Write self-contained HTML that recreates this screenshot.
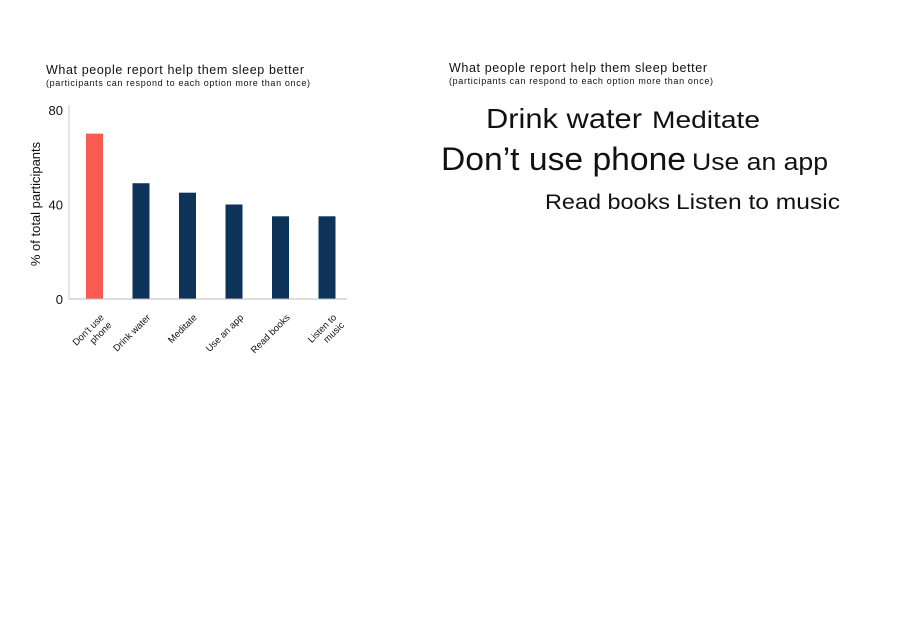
<!DOCTYPE html>
<html><head><meta charset="utf-8"><style>
body{margin:0;background:#fff;font-family:"Liberation Sans",sans-serif}
svg{display:block}
</style></head><body>
<svg id="c" width="914" height="638" font-family="Liberation Sans, sans-serif">
<text x="46" y="74" font-size="12.5" fill="#111" textLength="258">What people report help them sleep better</text>
<text x="46" y="86" font-size="9" fill="#111" textLength="264">(participants can respond to each option more than once)</text>
<text x="449" y="72" font-size="12.5" fill="#111" textLength="258">What people report help them sleep better</text>
<text x="449" y="84" font-size="9" fill="#111" textLength="264">(participants can respond to each option more than once)</text>
<text transform="translate(40,204) rotate(-90)" text-anchor="middle" font-size="13" fill="#111">% of total participants</text>
<g id="bars"></g>
<g id="cloud"></g>
</svg>
<script>
const categories=["Don't use phone","Drink water","Meditate","Use an app","Read books","Listen to music"];
const labelLines=[["Don't use","phone"],["Drink water"],["Meditate"],["Use an app"],["Read books"],["Listen to","music"]];
const values=[70,49,45,40,35,35];
const yTicks=[0,40,80];
const cloudWords=["Drink water","Meditate","Don’t use phone","Use an app","Read books","Listen to music"];
const NS="http://www.w3.org/2000/svg";
const g=document.getElementById('bars');
const x0=69,x1=347,yBase=299,yTop=110,yMax=80;
const y=v=>yBase-(v/yMax)*(yBase-yTop);
const step=46.5,bw=17;
const xc=i=>94.5+i*step;
function el(t,a,p){const e=document.createElementNS(NS,t);for(const k in a)e.setAttribute(k,a[k]);p.appendChild(e);return e;}
const ya=el('line',{x1:x0,y1:105,x2:x0,y2:yBase,stroke:'#ccc'},g);


yTicks.forEach(t=>{const tx=el('text',{x:63,y:y(t)+5,'text-anchor':'end','font-size':13,fill:'#111'},g);tx.textContent=t;

});
values.forEach((v,i)=>{const r=el('rect',{x:xc(i)-bw/2,y:y(v),width:bw,height:yBase-y(v),fill:i===0?'#f95b52':'#0d3358'},g);


const t=el('text',{transform:`translate(${xc(i)+10},${yBase+19}) rotate(-45)`,'text-anchor':'end','font-size':9.5,fill:'#111'},g);


labelLines[i].forEach((l,j)=>{const s=el('tspan',{x:0,dy:j?11:0},t);s.textContent=l;});
});
const xa=el('line',{x1:x0,y1:yBase,x2:x1,y2:yBase,stroke:'#bbb'},g);


const cl=document.getElementById('cloud');
const layout=[[486,128,28,156],[652,128,24,108],[441,170,32,245],[692,170,24,136],[545,209,21,125],[676,209,21,164]];
cloudWords.forEach((w,i)=>{const L=layout[i];const t=el('text',{x:L[0],y:L[1],'font-size':L[2],fill:'#111',textLength:L[3],lengthAdjust:'spacingAndGlyphs'},cl);t.textContent=w;

});
</script>
</body></html>
